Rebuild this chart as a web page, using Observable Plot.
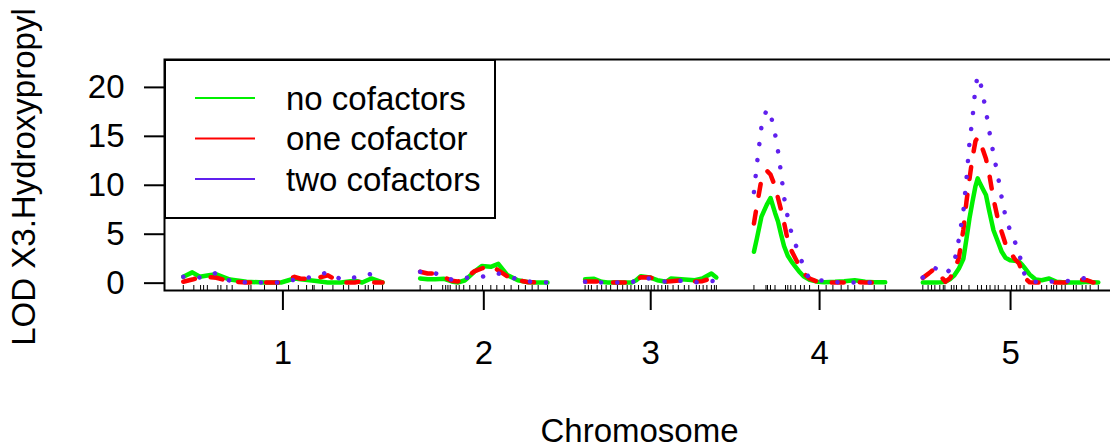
<!DOCTYPE html>
<html>
<head>
<meta charset="utf-8">
<script src="https://cdn.jsdelivr.net/npm/d3@7"></script>
<script src="https://cdn.jsdelivr.net/npm/@observablehq/plot@0.6"></script>
<style>
  html, body { margin: 0; padding: 0; background: #fff; }
  #chart { width: 1110px; height: 447px; overflow: hidden; }
</style>
</head>
<body>
<div id="chart"></div>
<script>
// ---- data ----
const chromosomes = ["1", "2", "3", "4", "5"];
const chrLengths = [132.5, 84.7, 87.3, 87.3, 116.7];
const chrGap = 25;
const yTicks = [0, 5, 10, 15, 20];
const seriesNames = ["no cofactors", "one cofactor", "two cofactors"];
const seriesColors = ["#00f000", "#ff0000", "#6020ee"];

const chr1Pos  = [0, 6, 11, 17, 22, 31, 42, 54, 65, 70, 74, 78, 87, 96, 105, 114, 119, 125, 132.5];
const chr1None = [0.65, 1.1, 0.65, 0.8, 0.9, 0.37, 0.14, 0.07, 0.07, 0.3, 0.48, 0.4, 0.25, 0.07, 0.07, 0.25, 0.07, 0.48, 0.07];
const chr1One  = [0.14, 0.37, 0.6, 0.62, 0.55, 0.17, 0.07, 0.07, 0.07, 0.4, 0.65, 0.45, 0.44, 0.8, 0.07, 0.07, 0.2, 0.07, 0.07];
const chr1Two  = [0.65, 0.6, 0.58, 0.8, 1.05, 0.24, 0.07, 0.07, 0.07, 0.2, 0.37, 0.45, 0.65, 1.13, 0.37, 0.58, 0.7, 0.95, 0.07];
const chr1Markers = [0, 7, 11.5, 13.5, 16, 23, 25, 29, 32.5, 43.5, 45, 54, 62, 70, 76.5, 82, 86, 87, 92.5, 99.5, 106.5, 110, 116.5, 121, 123, 126.5, 132.5];

const chr2Pos  = [0, 5, 10, 16, 21, 25, 30, 36, 41, 47, 52, 58, 65, 72, 78, 84.7];
const chr2None = [0.48, 0.41, 0.41, 0.44, 0.17, 0.07, 0.3, 1.16, 1.75, 1.67, 1.97, 0.82, 0.3, 0.1, 0.07, 0.07];
const chr2One  = [1.16, 0.99, 0.99, 0.6, 0.24, 0.17, 0.54, 1.2, 1.5, 1.84, 1.3, 0.7, 0.3, 0.1, 0.07, 0.07];
const chr2Two  = [1.16, 1.05, 1.02, 0.6, 0.37, 0.45, 0.54, 0.6, 0.65, 0.85, 0.99, 0.7, 0.4, 0.17, 0.1, 0.07];
const chr2Markers = [0, 7.5, 15, 17, 18.5, 20, 24, 26, 29, 33, 37, 41.5, 47, 51, 56, 60.5, 65.5, 70, 74.5, 78.5, 84.7];

const chr3Pos  = [0, 6, 11, 15, 22, 31, 34, 37, 43, 48, 54, 57, 64, 73, 78, 84, 87.3];
const chr3None = [0.41, 0.44, 0.14, 0.07, 0.07, 0.07, 0.3, 0.71, 0.58, 0.3, 0.14, 0.48, 0.41, 0.3, 0.48, 0.99, 0.58];
const chr3One  = [0.17, 0.17, 0.14, 0.07, 0.07, 0.07, 0.3, 0.6, 0.58, 0.37, 0.17, 0.2, 0.3, 0.17, 0.2, 0.5, 0.37];
const chr3Two  = [0.14, 0.1, 0.07, 0.07, 0.07, 0.07, 0.3, 0.45, 0.48, 0.3, 0.14, 0.2, 0.24, 0.1, 0.07, 0.2, 0.3];
const chr3Markers = [0, 2.2, 4.2, 8, 11, 14, 17, 21.5, 25, 28, 30.5, 33, 35.5, 37.5, 40.5, 42, 44, 46, 48.5, 51, 53.5, 55, 58.5, 62, 66, 69, 74, 76, 78.5, 81, 84, 86, 87.3];

const chr4Pos  = [0, 2, 5, 8.5, 11, 14, 16, 18, 20, 22.5, 25, 27, 30, 33, 37, 42, 47, 54, 60, 67, 74, 80, 87.3];
const chr4None = [3.2, 4.6, 6.8, 8.0, 8.7, 7.2, 6.3, 5.0, 3.8, 2.8, 2.2, 1.8, 1.2, 0.7, 0.35, 0.15, 0.1, 0.14, 0.2, 0.3, 0.14, 0.1, 0.1];
const chr4One  = [6.1, 8.0, 10.6, 11.5, 11.1, 9.9, 8.7, 7.5, 6.2, 4.35, 3.3, 2.7, 1.8, 1.0, 0.48, 0.15, 0.07, 0.07, 0.07, 0.1, 0.07, 0.05, 0.07];
const chr4Two  = [9.3, 12.2, 16.0, 17.8, 17.3, 15.3, 13.5, 11.3, 8.8, 6.7, 5.1, 4.2, 3.0, 1.7, 0.35, 0.3, 0.24, 0.1, 0.07, 0.07, 0.07, 0.07, 0.07];
const chr4Markers = [0, 8, 9, 11, 14, 21, 22.5, 24.5, 27.5, 31, 33.5, 37, 43, 48, 52.5, 58, 62.5, 67, 72.5, 80, 87.3];

const chr5Pos  = [0, 4, 8, 12, 15, 18, 21, 24, 27, 29, 31, 33, 35, 36.5, 38, 40, 42, 44, 47, 50, 52.5, 55, 58, 61, 64, 66, 68, 71, 75, 79, 84, 89, 95, 100, 105, 109, 113, 116.7];
const chr5None = [0.07, 0.07, 0.07, 0.1, 0.14, 0.4, 0.8, 1.5, 2.5, 4.5, 6.6, 8.3, 9.9, 10.7, 10.2, 9.6, 9.0, 7.5, 5.4, 4.2, 3.2, 2.6, 2.35, 2.3, 2.2, 1.9, 1.5, 0.9, 0.37, 0.3, 0.48, 0.14, 0.07, 0.07, 0.07, 0.14, 0.1, 0.07];
const chr5One  = [0.54, 1.0, 1.5, 0.7, 0.14, 0.5, 1.3, 2.6, 5.5, 8.3, 10.6, 12.8, 14.5, 14.9, 14.3, 13.6, 12.7, 11.3, 8.6, 6.5, 5.2, 4.0, 3.2, 2.5, 2.0, 1.2, 0.5, 0.1, 0.07, 0.07, 0.07, 0.07, 0.07, 0.35, 0.35, 0.3, 0.07, 0.07];
const chr5Two  = [0.58, 1.05, 1.55, 1.2, 0.9, 1.4, 2.2, 4.5, 7.4, 10.6, 14.3, 16.8, 20.0, 21.2, 20.7, 19.2, 17.6, 15.7, 13.2, 10.9, 8.7, 6.8, 5.4, 4.3, 3.2, 1.6, 0.8, 0.14, 0.14, 0.14, 0.14, 0.2, 0.2, 0.3, 0.45, 0.55, 0.6, 0.5];
const chr5Markers = [0, 3.5, 5.8, 8, 11.3, 13.6, 14.7, 19, 20.7, 22.4, 25.8, 30.7, 36.4, 39, 42.4, 44.7, 48, 50.2, 54.7, 59, 62.4, 64.7, 67.3, 73, 79, 82.4, 85.5, 87, 89, 92.4, 94.7, 100.2, 102, 106, 108.5, 111.3, 116.7];

// ---- build tables ----
const perChr = [
  [chr1Pos, chr1None, chr1One, chr1Two, chr1Markers],
  [chr2Pos, chr2None, chr2One, chr2Two, chr2Markers],
  [chr3Pos, chr3None, chr3One, chr3Two, chr3Markers],
  [chr4Pos, chr4None, chr4One, chr4Two, chr4Markers],
  [chr5Pos, chr5None, chr5One, chr5Two, chr5Markers]
];
const offsets = [];
chrLengths.forEach((len, i) => offsets.push(i === 0 ? 0 : offsets[i - 1] + chrLengths[i - 1] + chrGap));
const centers = chrLengths.map((len, i) => offsets[i] + len / 2);
const centerName = new Map(centers.map((c, i) => [c, chromosomes[i]]));

const seriesRows = [[], [], []];
const markerRows = [];
perChr.forEach(([pos, a, b, c, mk], i) => {
  [a, b, c].forEach((vals, s) => {
    pos.forEach((p, k) => seriesRows[s].push({chr: chromosomes[i], x: offsets[i] + p, lod: vals[k]}));
  });
  mk.forEach(m => markerRows.push({chr: chromosomes[i], x: offsets[i] + m}));
});

const FONT = "'Liberation Sans', Arial, Helvetica, sans-serif";
const FS = 33;
const W = 1110, H = 447, ML = 164, MT = 59, MB = 157;
const pxPerUnit = 1.5037;
const xDomain = [-chrGap / 2, -chrGap / 2 + (W - ML) / pxPerUnit];

const chart = Plot.plot({
  width: W, height: H,
  marginLeft: ML, marginRight: 0, marginTop: MT, marginBottom: MB,
  style: {fontFamily: FONT, fontSize: FS + "px", background: "#fff", color: "#000", overflow: "visible"},
  x: {domain: xDomain},
  y: {domain: [-0.75, 22.85]},
  marks: [
    Plot.ruleX(markerRows, {x: "x", insetTop: 226, stroke: "#000", strokeWidth: 1}),
    Plot.line(seriesRows[0], {x: "x", y: "lod", z: "chr", stroke: seriesColors[0], strokeWidth: 4.5, strokeLinejoin: "round", strokeLinecap: "round"}),
    Plot.line(seriesRows[1], {x: "x", y: "lod", z: "chr", stroke: seriesColors[1], strokeWidth: 4.5, strokeDasharray: "12,16", strokeLinecap: "round"}),
    Plot.line(seriesRows[2], {x: "x", y: "lod", z: "chr", stroke: seriesColors[2], strokeWidth: 4.5, strokeDasharray: "0.1,16", strokeLinecap: "round"}),
    Plot.frame({stroke: "#000", strokeWidth: 2, insetRight: -20}),
    Plot.axisY(yTicks, {tickSize: 20, tickPadding: 20, fontSize: FS, strokeWidth: 2, label: null}),
    Plot.axisX(centers, {tickSize: 20, tickPadding: 30, fontSize: FS, strokeWidth: 2, label: null, tickFormat: d => centerName.get(d)}),
    Plot.text(["Chromosome"], {text: d => d, frameAnchor: "bottom", textAnchor: "middle", dx: 2, dy: 151, fontSize: FS}),
    Plot.text(["LOD X3.Hydroxypropyl"], {text: d => d, frameAnchor: "left", textAnchor: "middle", dx: -140, dy: 2, rotate: -90, fontSize: FS})
  ]
});
document.getElementById("chart").appendChild(chart);

// ---- legend (top-left inside the plot frame) ----
const svg = d3.select(chart);
const lg = svg.append("g").attr("transform", `translate(${ML + 1},${MT + 1})`);
lg.append("rect").attr("x", 0).attr("y", 0).attr("width", 330).attr("height", 158)
  .attr("fill", "#fff").attr("stroke", "#000").attr("stroke-width", 2);
seriesNames.forEach((name, i) => {
  const cy = 38 + i * 40.5;
  lg.append("line").attr("x1", 30).attr("x2", 90).attr("y1", cy).attr("y2", cy)
    .attr("stroke", seriesColors[i]).attr("stroke-width", 2);
  lg.append("text").attr("x", 121).attr("y", cy).attr("dy", "0.35em")
    .attr("text-anchor", "start")
    .attr("font-family", FONT).attr("font-size", FS).attr("fill", "#000").text(name);
});
</script>
</body>
</html>
